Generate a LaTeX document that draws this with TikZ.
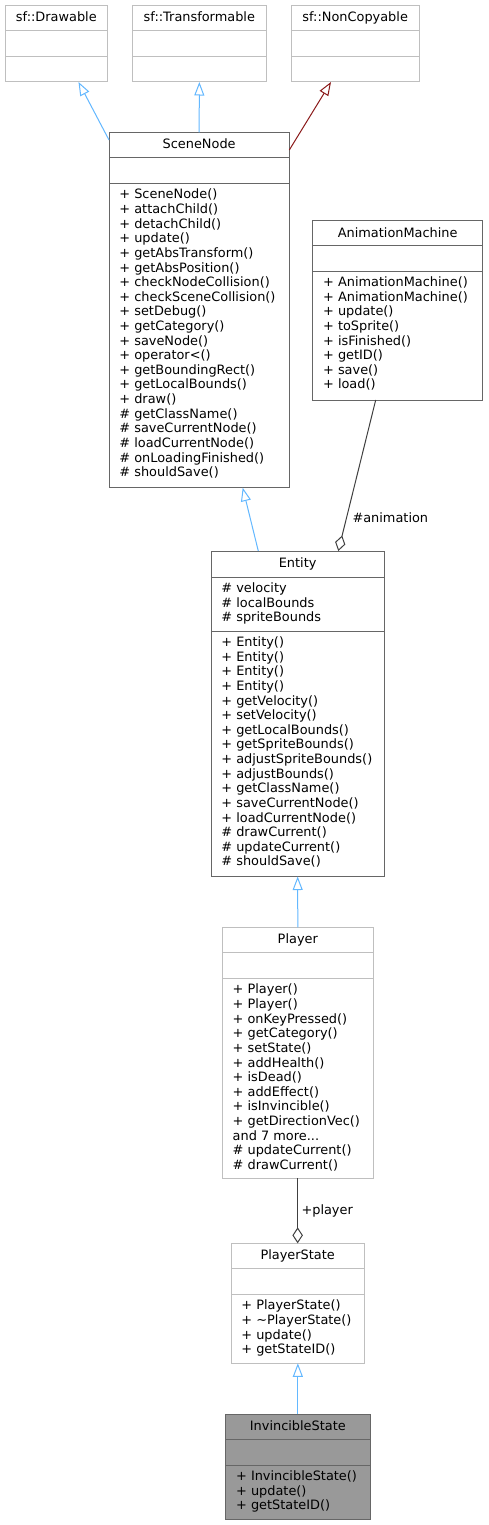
\documentclass[tikz,border=0pt]{standalone}
\usepackage{fontspec}
\setmainfont{DejaVu Sans}
\usetikzlibrary{arrows.meta,calc}
\definecolor{lightborder}{HTML}{BFBFBF}
\definecolor{darkborder}{HTML}{666666}
\definecolor{inhblue}{HTML}{63B8FF}
\definecolor{privred}{HTML}{8B1A1A}
\definecolor{usegray}{HTML}{404040}
\definecolor{curfill}{HTML}{999999}
\tikzset{
  txt/.style={inner sep=0pt, outer sep=0pt, font=\fontsize{12.9}{14.62}\selectfont, text=black},
  lightbox/.style={draw=lightborder, fill=white, line width=1pt, inner sep=0pt, outer sep=0pt},
  darkbox/.style={draw=darkborder, fill=white, line width=1pt, inner sep=0pt, outer sep=0pt},
  curbox/.style={draw=darkborder, fill=curfill, line width=1pt, inner sep=0pt, outer sep=0pt},
  inherit/.style={draw=inhblue, line width=1pt, -{Triangle[open, length=13.5pt, width=10pt]}},
  privinherit/.style={draw=privred, line width=1pt, -{Triangle[open, length=13.5pt, width=10pt]}},
  aggr/.style={draw=usegray, line width=1pt, {Diamond[open, length=16pt, width=10.5pt]}-},
}
% name, style, left, top, right, sep1, sep2, bottom
\newcommand\umlbox[8]{%
  \node[#2, anchor=north west, minimum width={(#5-#3)*1pt}, minimum height={(#8-#4)*1pt}] (#1) at (#3,#4) {};
  \draw[#2, fill=none] (#3,#6) -- (#5,#6) (#3,#7) -- (#5,#7);
}
% name, text
\newcommand\umltitle[2]{%
  \node[txt, anchor=base] (#1-title) at ($(#1.north)+(0,16.3)$) {#2};
}
% node name, left x, separator y, lines
\newcommand\umllist[4]{%
  \node[txt, anchor=north west, align=left] (#1) at (#2+10.4, #3+3.9) {\rule{0pt}{11.7pt}#4};
}
\begin{document}
\begin{tikzpicture}[x=1pt,y=-1pt]
\fill[white] (0,0) rectangle (488,1525);
\useasboundingbox (0,0) rectangle (488,1525);

% top external classes
\umlbox{Drawable}{lightbox}{5}{5.5}{107.7}{31}{56.5}{82}
\umltitle{Drawable}{sf::Drawable}
\umlbox{Transformable}{lightbox}{132}{5.5}{266.7}{31}{56.5}{82}
\umltitle{Transformable}{sf::Transformable}
\umlbox{NonCopyable}{lightbox}{291}{5.5}{419.3}{31}{56.5}{82}
\umltitle{NonCopyable}{sf::NonCopyable}

% SceneNode
\umlbox{SceneNode}{darkbox}{109}{132.3}{289.3}{157.7}{183.3}{487.7}
\umltitle{SceneNode}{SceneNode}
\umllist{SceneNode-ops}{109}{183.3}{+ SceneNode()\\+ attachChild()\\+ detachChild()\\+ update()\\+ getAbsTransform()\\+ getAbsPosition()\\+ checkNodeCollision()\\+ checkSceneCollision()\\+ setDebug()\\+ getCategory()\\+ saveNode()\\+ operator<()\\+ getBoundingRect()\\+ getLocalBounds()\\+ draw()\\\# getClassName()\\\# saveCurrentNode()\\\# loadCurrentNode()\\\# onLoadingFinished()\\\# shouldSave()}

% AnimationMachine
\umlbox{AnimationMachine}{darkbox}{312.7}{220.7}{482.7}{245.5}{271}{400}
\umltitle{AnimationMachine}{AnimationMachine}
\umllist{AnimationMachine-ops}{312.7}{271}{+ AnimationMachine()\\+ AnimationMachine()\\+ update()\\+ toSprite()\\+ isFinished()\\+ getID()\\+ save()\\+ load()}

% Entity
\umlbox{Entity}{darkbox}{211}{551}{384.3}{577}{631}{876.5}
\umltitle{Entity}{Entity}
\umllist{Entity-attrs}{211}{577}{\# velocity\\\# localBounds\\\# spriteBounds}
\umllist{Entity-ops}{211}{631}{+ Entity()\\+ Entity()\\+ Entity()\\+ Entity()\\+ getVelocity()\\+ setVelocity()\\+ getLocalBounds()\\+ getSpriteBounds()\\+ adjustSpriteBounds()\\+ adjustBounds()\\+ getClassName()\\+ saveCurrentNode()\\+ loadCurrentNode()\\\# drawCurrent()\\\# updateCurrent()\\\# shouldSave()}

% Player
\umlbox{Player}{lightbox}{222.3}{927.3}{373.3}{952.8}{978.3}{1178.3}
\umltitle{Player}{Player}
\umllist{Player-ops}{222.3}{978.3}{+ Player()\\+ Player()\\+ onKeyPressed()\\+ getCategory()\\+ setState()\\+ addHealth()\\+ isDead()\\+ addEffect()\\+ isInvincible()\\+ getDirectionVec()\\and 7 more...\\\# updateCurrent()\\\# drawCurrent()}

% PlayerState
\umlbox{PlayerState}{lightbox}{231}{1243.3}{364.3}{1268.8}{1294.3}{1363.3}
\umltitle{PlayerState}{PlayerState}
\umllist{PlayerState-ops}{231}{1294.3}{+ PlayerState()\\+ \textasciitilde PlayerState()\\+ update()\\+ getStateID()}

% InvincibleState
\umlbox{InvincibleState}{curbox}{225.7}{1414.3}{370}{1439.5}{1465}{1519.3}
\umltitle{InvincibleState}{InvincibleState}
\umllist{InvincibleState-ops}{225.7}{1465}{+ InvincibleState()\\+ update()\\+ getStateID()}

% connectors
\draw[inherit] ($(SceneNode.north west)+(0,7.7)$) -- ($(Drawable.south west)+(73.5,0)$);
\draw[inherit] (SceneNode.north) -- (Transformable.south);
\draw[privinherit] ($(SceneNode.north east)+(0,17.7)$) -- ($(NonCopyable.south west)+(40,0)$);
\draw[inherit] ($(Entity.north west)+(47.3,0)$) -- ($(SceneNode.south west)+(133.7,0)$);
\draw[aggr] ($(Entity.north west)+(127.3,0)$) -- ($(AnimationMachine.south west)+(63,0)$);
\node[txt, anchor=base west] (animlabel) at (352.5,522) {\#animation};
\draw[inherit] (Player.north) -- (Entity.south);
\draw[aggr] (PlayerState.north) -- (PlayerState.north |- Player.south);
\node[txt, anchor=base west] (playerlabel) at (301.5,1214) {+player};
\draw[inherit] (InvincibleState.north) -- (InvincibleState.north |- PlayerState.south);
\end{tikzpicture}
\end{document}
